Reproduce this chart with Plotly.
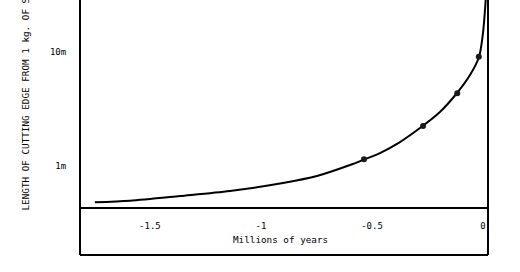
import plotly.graph_objects as go

# Curve (millions of years, metres of cutting edge)
curve_x = [-1.748, -1.590, -1.365, -1.140, -0.901, -0.748, -0.599, -0.541, -0.464,
           -0.374, -0.284, -0.194, -0.117, -0.0586, -0.018, 0.0, 0.009, 0.0135]
curve_y = [0.481, 0.497, 0.546, 0.604, 0.710, 0.817, 1.020, 1.129, 1.300,
           1.623, 2.154, 2.977, 4.37, 6.28, 9.04, 14.7, 23.4, 31.6]

# Observed points (dots)
pts_x = [-0.536, -0.270, -0.116, -0.019]
pts_y = [1.145, 2.24, 4.35, 9.09]

x_ticks = [-1.5, -1, -0.5, 0]
x_tick_text = ["-1.5", "-1", "-0.5", "0"]
y_ticks = [1, 10]
y_tick_text = ["1m", "10m"]

FONT = "DejaVu Sans Mono"

fig = go.Figure()
fig.add_trace(go.Scatter(x=curve_x, y=curve_y, mode="lines",
                         line=dict(color="black", width=2, shape="spline", smoothing=0.8),
                         showlegend=False, hoverinfo="skip"))
fig.add_trace(go.Scatter(x=pts_x, y=pts_y, mode="markers",
                         marker=dict(color="#1a1a1a", size=6),
                         showlegend=False))

fig.update_layout(
    width=520, height=272,
    margin=dict(l=80, r=32, t=0, b=64, pad=0),
    paper_bgcolor="white", plot_bgcolor="white",
    font=dict(family=FONT, color="black", size=9),
    xaxis=dict(range=[-1.815, 0.0225], tickvals=x_ticks, ticktext=x_tick_text,
               showgrid=False, zeroline=False, showline=False,
               ticks="outside", ticklen=9, tickcolor="rgba(0,0,0,0)",
               tickfont=dict(family=FONT, size=9, color="black")),
    yaxis=dict(type="log", range=[-0.368, 1.456], tickvals=y_ticks, ticktext=y_tick_text,
               showgrid=False, zeroline=False, showline=False,
               ticks="outside", ticklen=11, tickcolor="rgba(0,0,0,0)",
               tickfont=dict(family=FONT, size=9, color="black")),
)

bottom = -47 / 208
line = dict(color="black", width=2)
fig.add_shape(type="line", xref="paper", yref="paper", x0=0, x1=0, y0=bottom, y1=1.05, line=line)
fig.add_shape(type="line", xref="paper", yref="paper", x0=1, x1=1, y0=bottom, y1=1.05, line=line)
fig.add_shape(type="line", xref="paper", yref="paper", x0=0, x1=1, y0=bottom, y1=bottom, line=line)
fig.add_shape(type="line", xref="paper", yref="paper", x0=0, x1=1, y0=0, y1=0, line=line)

fig.add_annotation(text="Millions of years", xref="paper", yref="paper",
                   x=(280 - 80) / 408, y=-(240 - 208) / 208, xanchor="center", yanchor="middle",
                   showarrow=False, font=dict(family=FONT, size=9.3, color="black"))
fig.add_annotation(text="LENGTH OF CUTTING EDGE FROM 1 kg. OF STONE", xref="paper", yref="paper",
                   x=(25 - 80) / 408, y=-(213 - 208) / 208, xanchor="center", yanchor="bottom",
                   textangle=-90, showarrow=False,
                   font=dict(family=FONT, size=9.3, color="black"))

fig.write_html("out.html")
